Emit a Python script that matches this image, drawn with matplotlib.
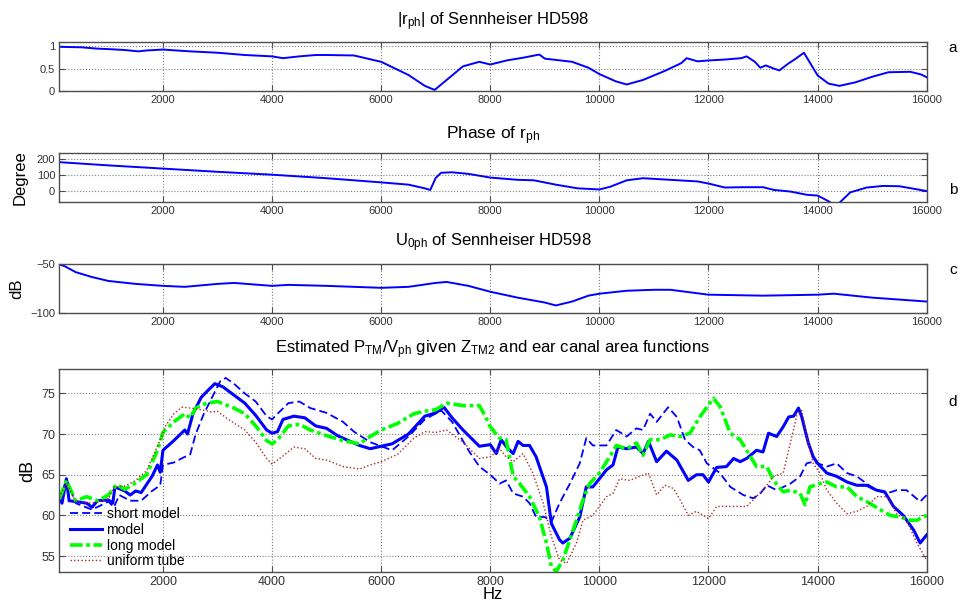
import matplotlib
matplotlib.use("Agg")
import matplotlib.pyplot as plt

plt.rcParams['font.family'] = ['Liberation Sans', 'DejaVu Sans']
plt.rcParams['mathtext.default'] = 'regular'

# ---------------- data ----------------
A_FREQ = [100, 500, 800, 1000, 1300, 1550, 1700, 2000, 2500, 3000, 3500, 4000, 4200, 4500, 4800,
          5000, 5500, 6000, 6500, 6800, 6980, 7100, 7500, 7800, 8000, 8300, 8600, 8900, 9000, 9500,
          9800, 10000, 10300, 10500, 10800, 11200, 11500, 11600, 11800, 12000, 12300, 12600, 12700,
          12850, 12950, 13050, 13200, 13300, 13450, 13600, 13750, 13850, 14000, 14200, 14400, 14700,
          15000, 15300, 15700, 15900, 16000]
A_VAL = [0.98, 0.97, 0.94, 0.93, 0.91, 0.88, 0.90, 0.92, 0.88, 0.85, 0.80, 0.77, 0.73, 0.77, 0.80,
         0.80, 0.79, 0.65, 0.36, 0.12, 0.03, 0.15, 0.55, 0.65, 0.59, 0.68, 0.74, 0.81, 0.72, 0.65,
         0.52, 0.38, 0.22, 0.15, 0.25, 0.45, 0.62, 0.73, 0.66, 0.68, 0.70, 0.73, 0.77,
         0.65, 0.52, 0.57, 0.50, 0.46, 0.60, 0.72, 0.85, 0.65, 0.35, 0.17, 0.12, 0.20,
         0.32, 0.42, 0.43, 0.37, 0.31]

B_FREQ = [100, 1000, 2000, 3000, 4000, 5000, 6000, 6500, 6800, 6900, 7000, 7100, 7300, 7600, 8000,
          8500, 8800, 9200, 9600, 10000, 10200, 10500, 10800, 11200, 11800, 12000, 12300, 12600,
          13000, 13200, 13500, 13800, 14000, 14200, 14320, 14400, 14600, 14900, 15200, 15500,
          15800, 16000]
B_VAL = [178, 158, 138, 118, 100, 78, 52, 38, 15, 5, 80, 112, 115, 105, 82,
         68, 65, 38, 15, 8, 25, 65, 78, 70, 58, 45, 20, 22,
         22, 5, -5, -25, -30, -65, -95, -75, -10, 20, 30, 28,
         10, -2]

C_FREQ = [100, 200, 400, 700, 1000, 1500, 2000, 2400, 3000, 3300, 4000, 4300, 5000, 6000, 6500,
          7000, 7200, 7600, 8000, 8500, 9000, 9200, 9500, 9800, 10000, 10500, 11000, 11300, 12000,
          13000, 14000, 14300, 15000, 15500, 16000]
C_VAL = [-50, -52, -58, -63, -67, -70, -72, -73, -70, -69, -72, -71, -72, -74, -73,
         -69, -68, -72, -78, -84, -89, -92, -88, -82, -80, -77, -76, -76, -81,
         -82, -81, -80, -84, -86, -88]

MODEL_FREQ = [100, 150, 230, 280, 400, 600, 700, 800, 1000, 1080, 1120, 1300, 1400, 1500, 1600,
              1700, 1800, 1900, 1950, 2000, 2200, 2400, 2450, 2550, 2700, 2800, 2950, 3100, 3300,
              3500, 3700, 3900, 4000, 4100, 4200, 4400, 4600, 4800, 5000, 5200, 5400, 5600, 5800,
              6000, 6200, 6500, 6800, 7000, 7150, 7300, 7500, 7800, 8000, 8110, 8200, 8300, 8420,
              8510, 8600, 8720, 8840, 9030, 9120, 9270, 9330, 9460, 9640, 9760, 9880, 10000, 10130,
              10250, 10340, 10500, 10680, 10800, 10900, 11050, 11230, 11420, 11630, 11780, 11900,
              12000, 12150, 12330, 12460, 12580, 12700, 12880, 13000, 13100, 13250, 13370, 13470,
              13560, 13650, 13710, 13830, 13920, 14000, 14170, 14350, 14540, 14720, 14900, 15080,
              15230, 15390, 15570, 15760, 15880, 16000]
MODEL_VAL = [62.0, 61.5, 64.5, 61.8, 61.7, 61.5, 61.0, 61.8, 61.9, 61.5, 63.5, 63.0, 62.5, 63.0, 62.8,
             63.8, 64.8, 66.2, 65.3, 68.0, 69.2, 70.5, 70.0, 72.5, 74.5, 75.2, 76.2, 75.8, 74.8,
             73.8, 72.3, 70.5, 70.1, 70.3, 71.8, 72.2, 72.0, 71.0, 70.7, 69.8, 69.2, 68.6, 68.2,
             68.5, 68.8, 70.0, 72.2, 72.6, 73.3, 72.0, 70.5, 68.5, 68.7, 67.6, 69.3, 68.4, 67.6,
             69.1, 68.6, 68.6, 67.2, 63.5, 59.0, 57.0, 56.6, 57.2, 59.8, 63.5, 63.5, 64.5, 65.6,
             66.2, 68.4, 68.2, 68.4, 67.6, 69.1, 66.6, 67.9, 66.8, 64.3, 65.0, 65.0,
             64.1, 65.9, 66.0, 67.0, 66.6, 67.0, 68.0, 67.8, 70.1, 69.7, 70.9, 72.1,
             72.2, 73.2, 72.1, 68.9, 67.2, 66.4, 65.2, 64.8, 64.1, 63.7, 63.7, 63.1,
             62.9, 61.1, 60.0, 58.2, 56.6, 57.6]

SHORT_FREQ = [100, 230, 400, 700, 1000, 1100, 1200, 1400, 1600, 1800, 1950, 2000, 2200, 2400, 2500,
              2600, 2750, 2900, 3050, 3150, 3300, 3500, 3700, 3900, 4000, 4100, 4300, 4500, 4700,
              5000, 5300, 5500, 5800, 6000, 6200, 6500, 6800, 7100, 7300, 7600, 7800, 8000, 8170,
              8290, 8420, 8600, 8720, 8840, 9000, 9120, 9270, 9460, 9640, 9760, 9880, 10130, 10310,
              10500, 10680, 10800, 10930, 11050, 11260, 11420, 11570, 11720, 11840, 11970, 12210,
              12400, 12640, 12820, 12950, 13070, 13250, 13500, 13680, 13800, 13920, 14170, 14350,
              14540, 14720, 14900, 15080, 15270, 15450, 15630, 15880, 16000]
SHORT_VAL = [61.5, 64.5, 61.5, 60.7, 61.7, 61.0, 62.5, 61.8, 61.8, 63.0, 63.7, 66.2, 66.5, 67.2, 67.5,
             70.0, 72.5, 74.5, 76.5, 76.9, 76.2, 75.0, 74.0, 72.2, 71.8, 72.5, 73.8, 74.0, 73.2,
             72.6, 71.5, 70.3, 69.0, 68.5, 68.0, 69.7, 71.8, 72.9, 71.5, 68.0, 66.0, 65.0, 63.9,
             64.3, 62.7, 62.3, 61.5, 59.8, 59.8, 59.2, 61.5, 63.9, 66.4, 69.5, 68.6, 68.6, 70.5,
             69.7, 70.7, 70.5, 72.5, 71.5, 73.3, 72.1, 69.3, 68.4, 68.0, 66.4, 65.2,
             63.5, 62.5, 62.1, 62.7, 63.7, 63.1, 63.9, 64.8, 66.4, 66.6, 66.0, 66.4,
             65.2, 64.8, 63.9, 63.1, 62.7, 63.1, 63.1, 61.7, 62.5]

LONG_FREQ = [100, 230, 400, 600, 800, 1000, 1150, 1300, 1500, 1700, 1800, 1900, 2000, 2200, 2400,
             2500, 2600, 2800, 3000, 3300, 3500, 3700, 3900, 4000, 4100, 4300, 4500, 4700, 5000,
             5300, 5600, 5800, 6000, 6300, 6600, 6800, 7000, 7200, 7500, 7800, 7900, 8000, 8170,
             8290, 8420, 8540, 8720, 8900, 9030, 9120, 9210, 9330, 9520, 9700, 9820, 10000, 10190,
             10310, 10500, 10680, 10800, 10930, 11110, 11300, 11480, 11660, 11840, 12090, 12210,
             12400, 12580, 12700, 12880, 13070, 13190, 13370, 13500, 13680, 13770, 13860, 14040,
             14170, 14350, 14540, 14720, 14900, 15150, 15330, 15510, 15700, 15820, 16000]
LONG_VAL = [62.0, 64.3, 61.8, 62.3, 61.8, 62.5, 63.8, 63.2, 64.0, 65.0, 66.5, 68.0, 70.2, 71.5, 72.5,
            72.0, 73.2, 73.8, 74.0, 73.2, 72.5, 71.0, 69.2, 68.8, 69.3, 71.0, 71.2, 70.5, 69.8,
            69.2, 68.8, 69.7, 70.5, 71.3, 72.5, 72.8, 73.0, 73.8, 73.5, 73.5, 72.3, 70.9, 69.5,
            69.3, 64.8, 63.9, 62.3, 59.8, 56.6, 53.7, 53.1, 54.5, 58.2, 61.9, 63.9, 65.2, 67.2,
            68.6, 68.2, 68.9, 67.4, 69.3, 69.3, 69.9, 69.7, 70.1, 72.1, 74.4, 73.4,
            70.1, 69.3, 68.0, 66.0, 66.0, 64.3, 62.9, 63.1, 62.7, 61.3, 63.5, 63.9,
            64.1, 63.5, 63.5, 62.3, 61.7, 60.7, 60.0, 59.8, 59.4, 59.4, 60.0]

TUBE_FREQ = [100, 230, 400, 700, 1000, 1100, 1300, 1500, 1700, 1800, 1950, 2050, 2200, 2350, 2500,
             2700, 2900, 3000, 3200, 3500, 3700, 3900, 4000, 4200, 4400, 4600, 4800, 5000, 5300,
             5600, 5800, 6000, 6300, 6600, 6800, 7000, 7200, 7500, 7800, 8000, 8170, 8290, 8420,
             8600, 8780, 8970, 9120, 9270, 9400, 9580, 9700, 9880, 10000, 10130, 10250, 10370,
             10560, 10740, 10900, 11050, 11200, 11360, 11480, 11630, 11780, 12000, 12150, 12330,
             12520, 12700, 12880, 13070, 13190, 13370, 13500, 13620, 13710, 13830, 13920, 14040,
             14170, 14350, 14540, 14720, 14900, 15080, 15270, 15450, 15630, 15820, 16000]
TUBE_VAL = [62.2, 64.0, 61.7, 61.5, 62.0, 63.5, 63.6, 64.3, 65.5, 67.0, 69.3, 71.0, 72.5, 73.3, 73.2,
            73.0, 72.7, 72.8, 71.8, 70.5, 69.0, 67.0, 66.3, 67.3, 68.4, 68.2, 67.0, 66.8, 66.0,
            65.7, 66.2, 66.6, 67.5, 69.5, 70.3, 70.2, 70.5, 69.0, 67.0, 67.2, 68.2, 67.2, 66.6,
            67.6, 65.2, 61.5, 57.4, 54.5, 54.1, 56.6, 59.4, 60.0, 61.1, 62.3, 62.7, 64.5,
            64.3, 64.8, 65.2, 62.5, 63.7, 63.3, 61.9, 60.0, 60.5, 59.6, 61.1, 61.1,
            61.1, 61.1, 62.3, 63.7, 64.8, 65.2, 68.9, 72.3, 72.9, 68.9, 66.4, 65.2,
            63.1, 61.5, 60.2, 60.5, 61.1, 62.3, 62.3, 60.2, 59.4, 56.6, 54.5]

X_TICKS = [2000, 4000, 6000, 8000, 10000, 12000, 14000, 16000]
TITLE_A = r'$|r_{ph}|$ of Sennheiser HD598'
TITLE_B = r'Phase of $r_{ph}$'
TITLE_C = r'$U_{0ph}$ of Sennheiser HD598'
TITLE_D = r'Estimated $P_{TM}/V_{ph}$ given $Z_{TM2}$ and ear canal area functions'
LEGEND_LABELS = ['short model', 'model', 'long model', 'uniform tube']

# ---------------- figure ----------------
W, H = 958, 603
fig = plt.figure(figsize=(W / 100, H / 100), dpi=100)

def fr(x0, y_top, x1, y_bot):
    return [x0 / W, 1 - y_bot / H, (x1 - x0) / W, (y_bot - y_top) / H]

L, R = 59.3, 926.7
ax_a = fig.add_axes(fr(L, 42.3, R, 91.3))
ax_b = fig.add_axes(fr(L, 152.7, R, 202.3))
ax_c = fig.add_axes(fr(L, 264.3, R, 313.3))
ax_d = fig.add_axes(fr(L, 369.0, R, 572.3))

BLUE = '#0000ff'
SPINE = '#4d4d4d'
TICKC = '#333333'

def style(ax, fs):
    ax.set_xlim(100, 16000)
    ax.set_xticks(X_TICKS)
    ax.grid(True, linestyle=':', color='#808080', linewidth=0.8)
    ax.tick_params(direction='in', top=True, right=True, length=4, width=0.8,
                   labelsize=fs, colors=SPINE, labelcolor=TICKC, pad=3)
    for s in ax.spines.values():
        s.set_color(SPINE)
        s.set_linewidth(1.0)
    ax.set_axisbelow(True)

ax_a.plot(A_FREQ, A_VAL, color=BLUE, lw=1.4)
style(ax_a, 8)
ax_a.set_ylim(0, 1.08)
ax_a.set_yticks([0, 0.5, 1])
ax_a.set_yticklabels(['0', '0.5', '1'])
ax_a.set_title(TITLE_A, fontsize=12, pad=12)

ax_b.plot(B_FREQ, B_VAL, color=BLUE, lw=1.4)
style(ax_b, 8)
ax_b.set_ylim(-72, 237)
ax_b.set_yticks([0, 100, 200])
ax_b.set_title(TITLE_B, fontsize=12.5, pad=10)
ax_b.set_ylabel('Degree', fontsize=12)
ax_b.yaxis.set_label_coords(-0.037, 0.5)

ax_c.plot(C_FREQ, C_VAL, color=BLUE, lw=1.4)
style(ax_c, 8)
ax_c.set_ylim(-100, -50)
ax_c.set_yticks([-100, -50])
ax_c.set_title(TITLE_C, fontsize=12, pad=13)
ax_c.set_ylabel('dB', fontsize=12)
ax_c.yaxis.set_label_coords(-0.040, 0.5)

h1, = ax_d.plot(SHORT_FREQ, SHORT_VAL, color=BLUE, lw=1.3, linestyle=(0, (4.5, 2.2)))
h2, = ax_d.plot(MODEL_FREQ, MODEL_VAL, color=BLUE, lw=2.2)
h3, = ax_d.plot(LONG_FREQ, LONG_VAL, color='#00ff00', lw=2.6, linestyle=(0, (3.5, 1.0, 1.0, 1.0)))
h4, = ax_d.plot(TUBE_FREQ, TUBE_VAL, color='#b02828', lw=1.0, linestyle=(0, (1, 1.6)))
style(ax_d, 9)
ax_d.set_ylim(53, 78)
ax_d.set_yticks([55, 60, 65, 70, 75])
ax_d.set_title(TITLE_D, fontsize=12, pad=11)
ax_d.set_ylabel('dB', fontsize=13)
ax_d.yaxis.set_label_coords(-0.026, 0.5)
ax_d.set_xlabel('Hz', fontsize=12, labelpad=-1)
ax_d.legend([h1, h2, h3, h4], LEGEND_LABELS, loc='lower left', frameon=False,
            fontsize=10, handlelength=2.3, handletextpad=0.35, labelspacing=0.12,
            borderpad=0, borderaxespad=0, bbox_to_anchor=(0.012, 0.02))

for lab, y in zip(['a', 'b', 'c', 'd'], [48, 190, 270, 402]):
    fig.text(953 / W, 1 - y / H, lab, fontsize=11, ha='center', va='center')

fig.savefig('out.png', dpi=100)
